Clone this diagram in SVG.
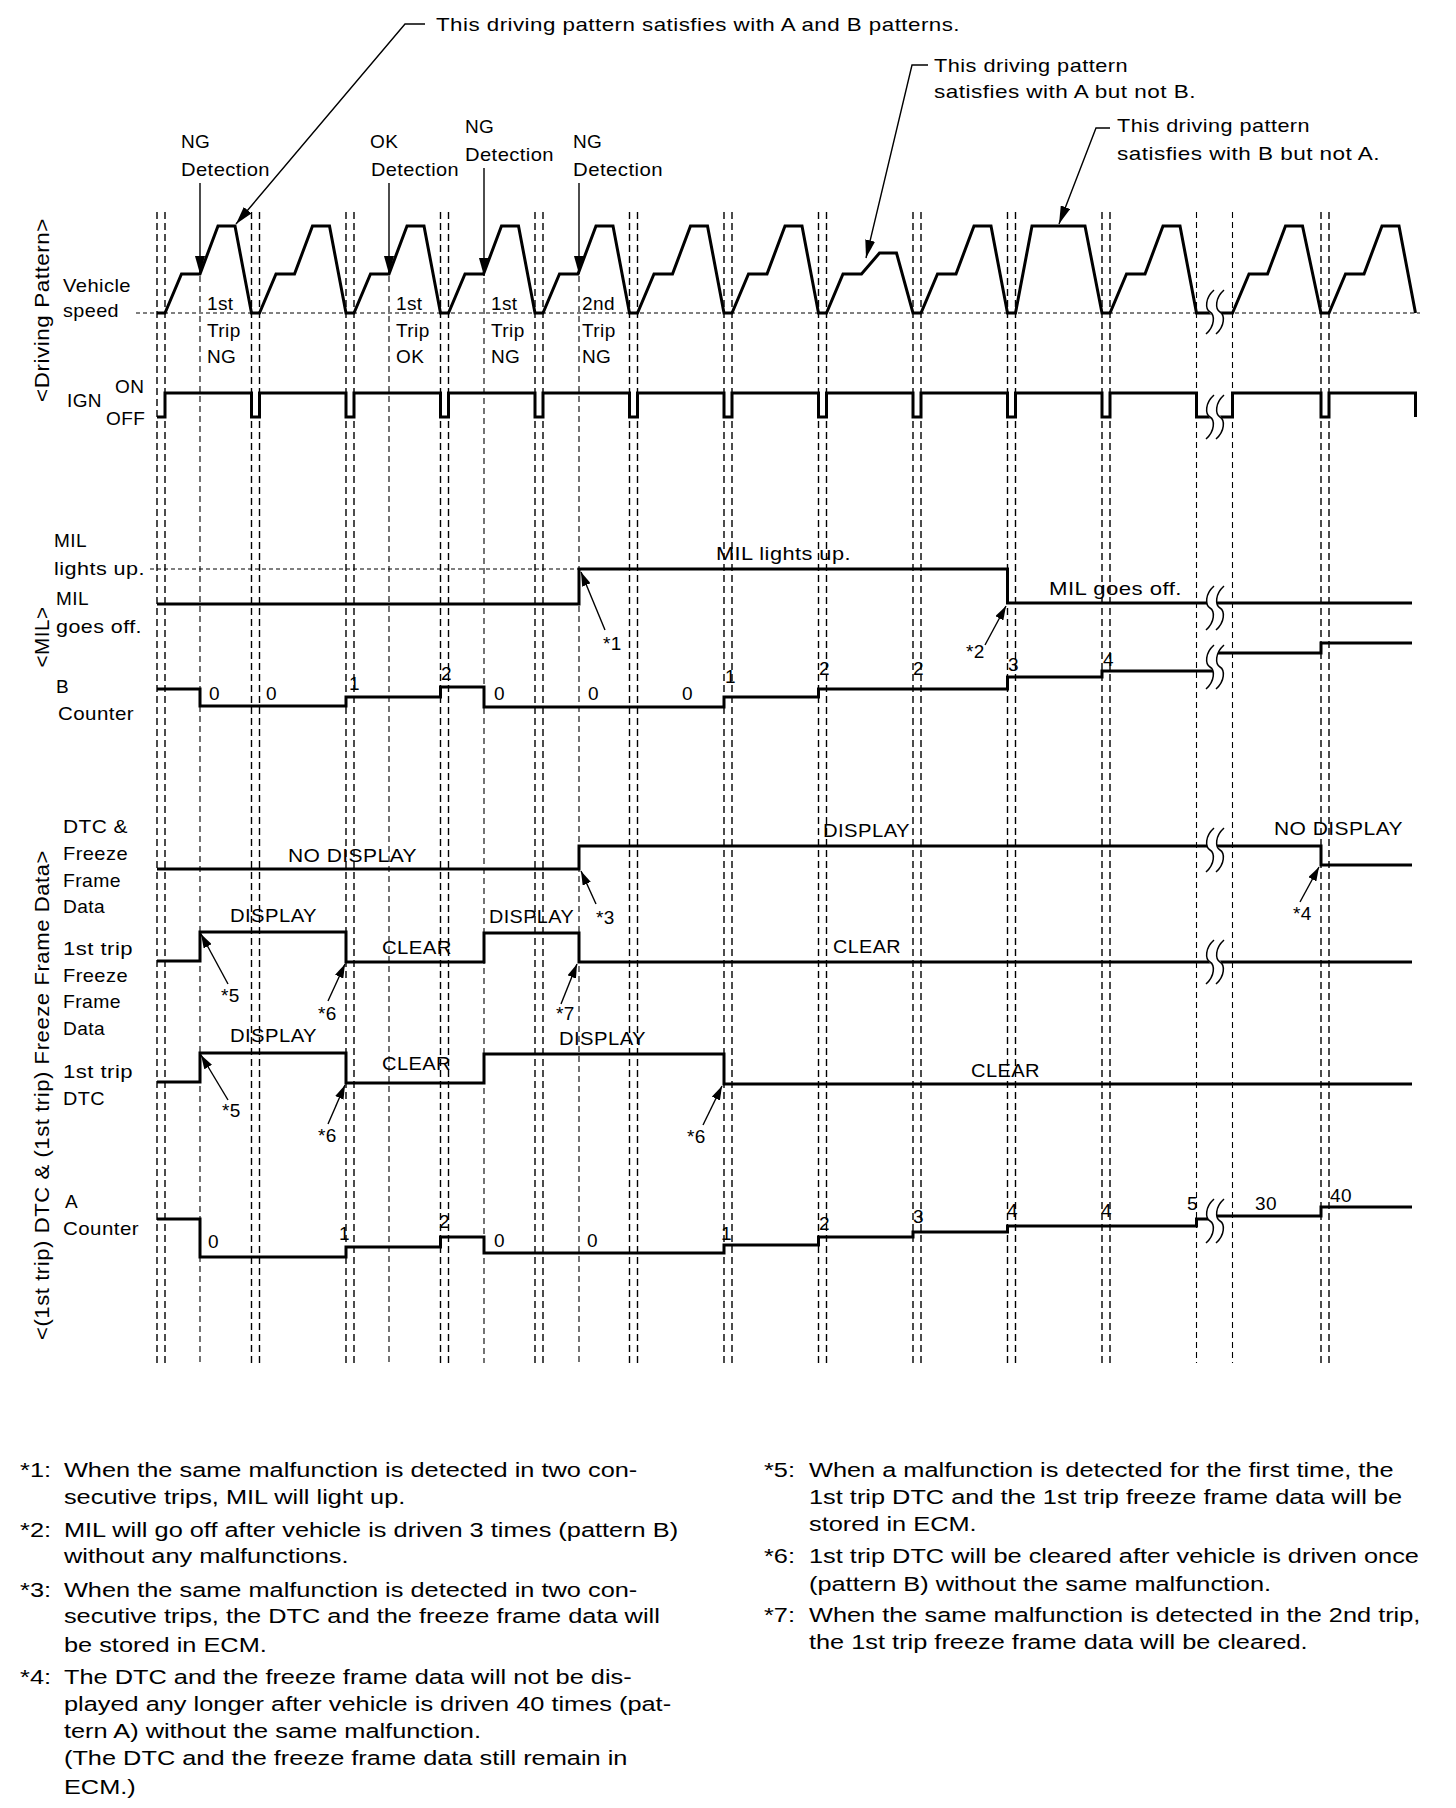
<svg xmlns="http://www.w3.org/2000/svg" width="1456" height="1808" viewBox="0 0 1456 1808">
<style>
text{font-family:"Liberation Sans",Arial,Helvetica,sans-serif;fill:#000}
.t{font-size:19px;letter-spacing:0.4px}
.r{font-size:20px;letter-spacing:0.5px}
.n{font-size:19.5px}
.w{fill:none;stroke:#000;stroke-width:3;stroke-linejoin:miter;stroke-linecap:butt}
.g{stroke:#000;stroke-width:1.4;stroke-dasharray:7 4;fill:none}
.gd{stroke:#000;stroke-width:1.1;stroke-dasharray:6 4;fill:none}
.bd{stroke:#000;stroke-width:1.2;stroke-dasharray:4 3;fill:none}
.a{fill:none;stroke:#000;stroke-width:1.4}
.brw{fill:none;stroke:#fff;stroke-width:9}
.brk{fill:none;stroke:#000;stroke-width:1.5}
</style>
<defs>
<marker id="ah" viewBox="0 0 14 9" refX="14" refY="4.5" markerWidth="14" markerHeight="9" markerUnits="userSpaceOnUse" orient="auto"><path d="M0,0 L14,4.5 L0,9 z" fill="#000"/></marker>
<marker id="ahL" viewBox="0 0 18 10" refX="18" refY="5" markerWidth="18" markerHeight="10" markerUnits="userSpaceOnUse" orient="auto"><path d="M0,0 L18,5 L0,10 z" fill="#000"/></marker>
<path id="brkS" d="M4,-22 C-5,-14 -5,-3 0,0 C5,3 5,14 -4,22"/>
</defs>
<rect width="1456" height="1808" fill="#fff"/>

<g id="grid">
<path class="g" d="M157,212V1363M165,212V1363M251.5,212V1363M259.5,212V1363M346,212V1363M354,212V1363M440.5,212V1363M448.5,212V1363M535,212V1363M543,212V1363M629.5,212V1363M637.5,212V1363M724,212V1363M732,212V1363M818.5,212V1363M826.5,212V1363M913,212V1363M921,212V1363M1007.5,212V1363M1015.5,212V1363M1102,212V1363M1110,212V1363M1321,212V1363M1329,212V1363"/>
<path class="gd" d="M1196.5,212V1363M1232.5,212V1363M200,276V1363M389,276V1363M484,278V1363M579,276V1363"/>
<path class="bd" d="M136,313H1420"/>
<path class="bd" d="M150,569H579"/>
</g>

<g id="axis-labels">
<text class="r" transform="rotate(-90 49 310)" x="49" y="310" text-anchor="middle" textLength="184" lengthAdjust="spacingAndGlyphs">&lt;Driving Pattern&gt;</text>
<text class="r" transform="rotate(-90 49 637)" x="49" y="637" text-anchor="middle" textLength="61" lengthAdjust="spacingAndGlyphs">&lt;MIL&gt;</text>
<text class="r" transform="rotate(-90 49 1095)" x="49" y="1095" text-anchor="middle" textLength="490" lengthAdjust="spacingAndGlyphs">&lt;(1st trip) DTC &amp; (1st trip) Freeze Frame Data&gt;</text>
</g>

<g id="speed">
<text class="t" x="63" y="292" textLength="68" lengthAdjust="spacingAndGlyphs">Vehicle</text>
<text class="t" x="63" y="317" textLength="56" lengthAdjust="spacingAndGlyphs">speed</text>
<path class="w" d="M157,313 L165,313 L181.5,274 L200,274 L218,226 L235,226 L251.5,313 L259.5,313 L276,274 L294.5,274 L312.5,226 L329.5,226 L346,313 L354,313 L370.5,274 L389,274 L407,226 L424,226 L440.5,313 L448.5,313 L465,274 L483.5,274 L501.5,226 L518.5,226 L535,313 L543,313 L559.5,274 L578,274 L596,226 L613,226 L629.5,313 L637.5,313 L654,274 L672.5,274 L690.5,226 L707.5,226 L724,313 L732,313 L748.5,274 L767,274 L785,226 L802,226 L818.5,313 L826.5,313 L843,274 L861.5,274 L879.5,253 L896.5,253 L913,313 L921,313 L937.5,274 L956,274 L974,226 L991,226 L1007.5,313 L1015.5,313 L1032,226 L1085,226 L1102,313 L1110,313 L1126.5,274 L1145,274 L1163,226 L1180,226 L1196.5,313 L1232.5,313 L1249,274 L1267.5,274 L1285.5,226 L1302.5,226 L1321,313 L1329,313 L1345.5,274 L1364,274 L1382,226 L1399,226 L1415.5,313"/>
<text class="t" x="207" y="310">1st</text><text class="t" x="207" y="337">Trip</text><text class="t" x="207" y="363">NG</text>
<text class="t" x="396" y="310">1st</text><text class="t" x="396" y="337">Trip</text><text class="t" x="396" y="363">OK</text>
<text class="t" x="491" y="310">1st</text><text class="t" x="491" y="337">Trip</text><text class="t" x="491" y="363">NG</text>
<text class="t" x="582" y="310">2nd</text><text class="t" x="582" y="337">Trip</text><text class="t" x="582" y="363">NG</text>
</g>

<g id="ign">
<text class="t" x="67" y="407">IGN</text>
<text class="t" x="115" y="393">ON</text>
<text class="t" x="106" y="425">OFF</text>
<path class="w" d="M157,417 L165,417 L165,393 L251.5,393 L251.5,417 L259.5,417 L259.5,393 L346,393 L346,417 L354,417 L354,393 L440.5,393 L440.5,417 L448.5,417 L448.5,393 L535,393 L535,417 L543,417 L543,393 L629.5,393 L629.5,417 L637.5,417 L637.5,393 L724,393 L724,417 L732,417 L732,393 L818.5,393 L818.5,417 L826.5,417 L826.5,393 L913,393 L913,417 L921,417 L921,393 L1007.5,393 L1007.5,417 L1015.5,417 L1015.5,393 L1102,393 L1102,417 L1110,417 L1110,393 L1196.5,393 L1196.5,417 L1232.5,417 L1232.5,393 L1321,393 L1321,417 L1329,417 L1329,393 L1415.5,393 L1415.5,417"/>
</g>

<g id="detections">
<text class="t" x="181" y="148">NG</text><text class="t" x="181" y="176" textLength="89" lengthAdjust="spacingAndGlyphs">Detection</text>
<text class="t" x="370" y="148">OK</text><text class="t" x="371" y="176" textLength="88" lengthAdjust="spacingAndGlyphs">Detection</text>
<text class="t" x="465" y="133">NG</text><text class="t" x="465" y="161" textLength="89" lengthAdjust="spacingAndGlyphs">Detection</text>
<text class="t" x="573" y="148">NG</text><text class="t" x="573" y="176" textLength="90" lengthAdjust="spacingAndGlyphs">Detection</text>
</g>

<g id="patterns">
<text class="t" x="436" y="31" textLength="524" lengthAdjust="spacingAndGlyphs">This driving pattern satisfies with A and B patterns.</text>
<text class="t" x="934" y="72" textLength="194" lengthAdjust="spacingAndGlyphs">This driving pattern</text>
<text class="t" x="934" y="98" textLength="262" lengthAdjust="spacingAndGlyphs">satisfies with A but not B.</text>
<text class="t" x="1117" y="132" textLength="193" lengthAdjust="spacingAndGlyphs">This driving pattern</text>
<text class="t" x="1117" y="160" textLength="263" lengthAdjust="spacingAndGlyphs">satisfies with B but not A.</text>
</g>

<g id="mil">
<text class="t" x="54" y="547">MIL</text>
<text class="t" x="54" y="575" textLength="91" lengthAdjust="spacingAndGlyphs">lights up.</text>
<text class="t" x="56" y="605">MIL</text>
<text class="t" x="56" y="633" textLength="86" lengthAdjust="spacingAndGlyphs">goes off.</text>
<path class="w" d="M157,604 L579,604 L579,569 L1007.5,569 L1007.5,603 L1412,603"/>
<text class="t" x="716" y="560" textLength="135" lengthAdjust="spacingAndGlyphs">MIL lights up.</text>
<text class="t" x="1049" y="595" textLength="133" lengthAdjust="spacingAndGlyphs">MIL goes off.</text>
<text class="t" x="603" y="650">*1</text>
<text class="t" x="966" y="658">*2</text>
</g>

<g id="b-counter">
<text class="t" x="56" y="693">B</text>
<text class="t" x="58" y="720" textLength="76" lengthAdjust="spacingAndGlyphs">Counter</text>
<path class="w" d="M157,689 L200,689 L200,706 L346,706 L346,697 L440.5,697 L440.5,687 L484,687 L484,707 L724,707 L724,697 L818.5,697 L818.5,689 L1007.5,689 L1007.5,677 L1102,677 L1102,671 L1214,671 M1214,653 L1321,653 L1321,643 L1412,643"/>
<text class="t" x="209" y="700">0</text>
<text class="t" x="266" y="700">0</text>
<text class="t" x="349" y="690">1</text>
<text class="t" x="441" y="680">2</text>
<text class="t" x="494" y="700">0</text>
<text class="t" x="588" y="700">0</text>
<text class="t" x="682" y="700">0</text>
<text class="t" x="725" y="683">1</text>
<text class="t" x="819" y="675">2</text>
<text class="t" x="913" y="675">2</text>
<text class="t" x="1008" y="671">3</text>
<text class="t" x="1103" y="666">4</text>
</g>

<g id="dtc-ffd">
<text class="t" x="63" y="833" textLength="65" lengthAdjust="spacingAndGlyphs">DTC &amp;</text>
<text class="t" x="63" y="860" textLength="65" lengthAdjust="spacingAndGlyphs">Freeze</text>
<text class="t" x="63" y="887" textLength="58" lengthAdjust="spacingAndGlyphs">Frame</text>
<text class="t" x="63" y="913" textLength="42" lengthAdjust="spacingAndGlyphs">Data</text>
<path class="w" d="M157,869 L579,869 L579,846 L1321,846 L1321,865 L1412,865"/>
<text class="t" x="288" y="862" textLength="129" lengthAdjust="spacingAndGlyphs">NO DISPLAY</text>
<text class="t" x="823" y="837" textLength="87" lengthAdjust="spacingAndGlyphs">DISPLAY</text>
<text class="t" x="1274" y="835" textLength="129" lengthAdjust="spacingAndGlyphs">NO DISPLAY</text>
<text class="t" x="596" y="924">*3</text>
<text class="t" x="1293" y="920">*4</text>
</g>

<g id="ffd1">
<text class="t" x="63" y="955" textLength="70" lengthAdjust="spacingAndGlyphs">1st trip</text>
<text class="t" x="63" y="982" textLength="65" lengthAdjust="spacingAndGlyphs">Freeze</text>
<text class="t" x="63" y="1008" textLength="58" lengthAdjust="spacingAndGlyphs">Frame</text>
<text class="t" x="63" y="1035" textLength="42" lengthAdjust="spacingAndGlyphs">Data</text>
<path class="w" d="M157,961 L200,961 L200,932 L346,932 L346,962 L484,962 L484,933 L579,933 L579,962 L1412,962"/>
<text class="t" x="230" y="922" textLength="87" lengthAdjust="spacingAndGlyphs">DISPLAY</text>
<text class="t" x="382" y="954" textLength="70" lengthAdjust="spacingAndGlyphs">CLEAR</text>
<text class="t" x="489" y="923" textLength="85" lengthAdjust="spacingAndGlyphs">DISPLAY</text>
<text class="t" x="833" y="953" textLength="68" lengthAdjust="spacingAndGlyphs">CLEAR</text>
<text class="t" x="221" y="1002">*5</text>
<text class="t" x="318" y="1020">*6</text>
<text class="t" x="556" y="1020">*7</text>
</g>

<g id="dtc1">
<text class="t" x="63" y="1078" textLength="70" lengthAdjust="spacingAndGlyphs">1st trip</text>
<text class="t" x="63" y="1105" textLength="42" lengthAdjust="spacingAndGlyphs">DTC</text>
<path class="w" d="M157,1082 L200,1082 L200,1053 L346,1053 L346,1083 L484,1083 L484,1054 L724,1054 L724,1084 L1412,1084"/>
<text class="t" x="230" y="1042" textLength="87" lengthAdjust="spacingAndGlyphs">DISPLAY</text>
<text class="t" x="382" y="1070" textLength="69" lengthAdjust="spacingAndGlyphs">CLEAR</text>
<text class="t" x="559" y="1045" textLength="87" lengthAdjust="spacingAndGlyphs">DISPLAY</text>
<text class="t" x="971" y="1077" textLength="69" lengthAdjust="spacingAndGlyphs">CLEAR</text>
<text class="t" x="222" y="1117">*5</text>
<text class="t" x="318" y="1142">*6</text>
<text class="t" x="687" y="1143">*6</text>
</g>

<g id="a-counter">
<text class="t" x="65" y="1208">A</text>
<text class="t" x="63" y="1235" textLength="76" lengthAdjust="spacingAndGlyphs">Counter</text>
<path class="w" d="M157,1219 L200,1219 L200,1257 L346,1257 L346,1247 L440.5,1247 L440.5,1237 L484,1237 L484,1253 L724,1253 L724,1245 L818.5,1245 L818.5,1237 L913,1237 L913,1232 L1007.5,1232 L1007.5,1226 L1196.5,1226 L1196.5,1219 L1214,1219 M1214,1216 L1321,1216 L1321,1207 L1412,1207"/>
<text class="t" x="208" y="1248">0</text>
<text class="t" x="339" y="1240">1</text>
<text class="t" x="439" y="1228">2</text>
<text class="t" x="494" y="1247">0</text>
<text class="t" x="587" y="1247">0</text>
<text class="t" x="721" y="1240">1</text>
<text class="t" x="819" y="1230">2</text>
<text class="t" x="913" y="1223">3</text>
<text class="t" x="1007" y="1217">4</text>
<text class="t" x="1101" y="1217">4</text>
<text class="t" x="1187" y="1210">5</text>
<text class="t" x="1255" y="1210">30</text>
<text class="t" x="1330" y="1202">40</text>
</g>

<g id="breaks">
<use href="#brkS" class="brw" transform="translate(1215 312)"/><use href="#brkS" class="brk" transform="translate(1210 312)"/><use href="#brkS" class="brk" transform="translate(1220 312)"/>
<use href="#brkS" class="brw" transform="translate(1215 417)"/><use href="#brkS" class="brk" transform="translate(1210 417)"/><use href="#brkS" class="brk" transform="translate(1220 417)"/>
<use href="#brkS" class="brw" transform="translate(1215 608)"/><use href="#brkS" class="brk" transform="translate(1210 608)"/><use href="#brkS" class="brk" transform="translate(1220 608)"/>
<use href="#brkS" class="brw" transform="translate(1215 667)"/><use href="#brkS" class="brk" transform="translate(1210 667)"/><use href="#brkS" class="brk" transform="translate(1220 667)"/>
<use href="#brkS" class="brw" transform="translate(1215 850)"/><use href="#brkS" class="brk" transform="translate(1210 850)"/><use href="#brkS" class="brk" transform="translate(1220 850)"/>
<use href="#brkS" class="brw" transform="translate(1215 962)"/><use href="#brkS" class="brk" transform="translate(1210 962)"/><use href="#brkS" class="brk" transform="translate(1220 962)"/>
<use href="#brkS" class="brw" transform="translate(1215 1221)"/><use href="#brkS" class="brk" transform="translate(1210 1221)"/><use href="#brkS" class="brk" transform="translate(1220 1221)"/>
</g>

<g id="connectors">
<polyline class="a" points="425,24 405,24 236,224" marker-end="url(#ahL)"/>
<polyline class="a" points="928,65 912,65 866,258" marker-end="url(#ahL)"/>
<polyline class="a" points="1110,128 1096,128 1059,224" marker-end="url(#ahL)"/>
<line class="a" x1="200" y1="183" x2="200" y2="274" marker-end="url(#ahL)"/>
<line class="a" x1="389" y1="183" x2="389" y2="274" marker-end="url(#ahL)"/>
<line class="a" x1="484" y1="168" x2="484" y2="276" marker-end="url(#ahL)"/>
<line class="a" x1="579" y1="183" x2="579" y2="274" marker-end="url(#ahL)"/>
<line class="a" x1="605" y1="630" x2="581" y2="572" marker-end="url(#ah)"/>
<line class="a" x1="985" y1="645" x2="1006" y2="606" marker-end="url(#ah)"/>
<line class="a" x1="596" y1="904" x2="581" y2="871" marker-end="url(#ah)"/>
<line class="a" x1="1300" y1="902" x2="1319" y2="867" marker-end="url(#ah)"/>
<line class="a" x1="228" y1="984" x2="201" y2="934" marker-end="url(#ah)"/>
<line class="a" x1="328" y1="1001" x2="345" y2="964" marker-end="url(#ah)"/>
<line class="a" x1="561" y1="1004" x2="577" y2="964" marker-end="url(#ah)"/>
<line class="a" x1="228" y1="1100" x2="201" y2="1055" marker-end="url(#ah)"/>
<line class="a" x1="328" y1="1124" x2="345" y2="1085" marker-end="url(#ah)"/>
<line class="a" x1="703" y1="1125" x2="722" y2="1086" marker-end="url(#ah)"/>
</g>

<g id="notes" transform="scale(1.3 1)">
<text class="n" x="15.4" y="1477">*1:</text>
<text class="n" x="49.2" y="1477">When the same malfunction is detected in two con-</text>
<text class="n" x="49.2" y="1504">secutive trips, MIL will light up.</text>
<text class="n" x="15.4" y="1537">*2:</text>
<text class="n" x="49.2" y="1537">MIL will go off after vehicle is driven 3 times (pattern B)</text>
<text class="n" x="49.2" y="1563">without any malfunctions.</text>
<text class="n" x="15.4" y="1597">*3:</text>
<text class="n" x="49.2" y="1597">When the same malfunction is detected in two con-</text>
<text class="n" x="49.2" y="1623">secutive trips, the DTC and the freeze frame data will</text>
<text class="n" x="49.2" y="1652">be stored in ECM.</text>
<text class="n" x="15.4" y="1684">*4:</text>
<text class="n" x="49.2" y="1684">The DTC and the freeze frame data will not be dis-</text>
<text class="n" x="49.2" y="1711">played any longer after vehicle is driven 40 times (pat-</text>
<text class="n" x="49.2" y="1738">tern A) without the same malfunction.</text>
<text class="n" x="49.2" y="1765">(The DTC and the freeze frame data still remain in</text>
<text class="n" x="49.2" y="1794">ECM.)</text>
<text class="n" x="587.7" y="1477">*5:</text>
<text class="n" x="622.3" y="1477">When a malfunction is detected for the first time, the</text>
<text class="n" x="622.3" y="1504">1st trip DTC and the 1st trip freeze frame data will be</text>
<text class="n" x="622.3" y="1531">stored in ECM.</text>
<text class="n" x="587.7" y="1563">*6:</text>
<text class="n" x="622.3" y="1563">1st trip DTC will be cleared after vehicle is driven once</text>
<text class="n" x="622.3" y="1591">(pattern B) without the same malfunction.</text>
<text class="n" x="587.7" y="1622">*7:</text>
<text class="n" x="622.3" y="1622">When the same malfunction is detected in the 2nd trip,</text>
<text class="n" x="622.3" y="1649">the 1st trip freeze frame data will be cleared.</text>
</g>
</svg>
